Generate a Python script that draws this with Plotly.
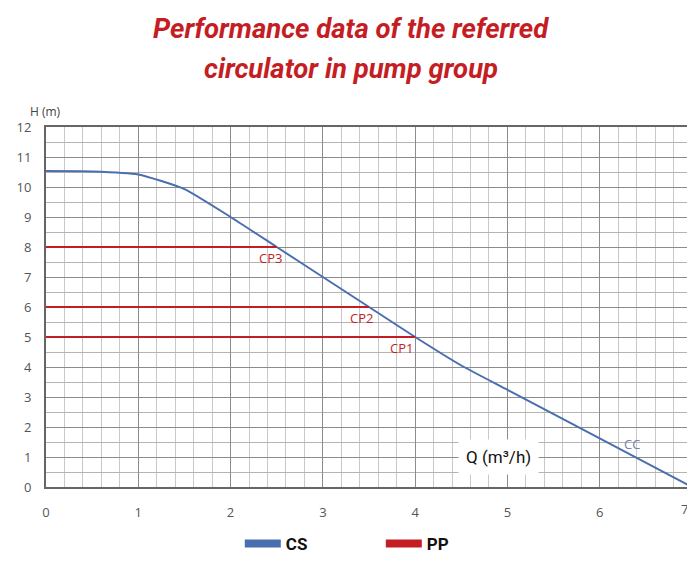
import plotly.graph_objects as go

# pump curve (CC)
q_curve = [0, 0.5, 1.0, 1.5, 2.0, 2.5, 3.0, 3.5, 4.0, 4.5, 5.0, 6.0, 7.0]
h_curve = [10.53, 10.52, 10.42, 9.93, 9.0, 8.0, 7.0, 6.0, 5.0, 4.05, 3.24, 1.62, 0.0]

# working points (PP)
cp_names = ["CP1", "CP2", "CP3"]
cp_q = [4.0, 3.5, 2.5]
cp_h = [5, 6, 8]
cp_shift = [-14, -8, -6]

x_ticks = [0, 1, 2, 3, 4, 5, 6]
y_ticks = list(range(0, 13))

BLUE = "#4a6fb0"
RED = "#c41e24"
TICK_FONT = dict(family="Open Sans", size=13, color="#555")

fig = go.Figure()

fig.add_trace(go.Scatter(x=q_curve, y=h_curve, mode="lines",
                         line=dict(color=BLUE, width=2, shape="spline", smoothing=0.5),
                         showlegend=False, hoverinfo="skip"))

for name, q, h, dx in zip(cp_names, cp_q, cp_h, cp_shift):
    fig.add_trace(go.Scatter(x=[0, q], y=[h, h], mode="lines",
                             line=dict(color=RED, width=2), showlegend=False))
    fig.add_annotation(x=q, y=h, text=name, showarrow=False,
                       xanchor="center", yanchor="top", yshift=0, xshift=dx,
                       font=dict(family="Open Sans", size=13, color=RED))

# legend-only entries
fig.add_trace(go.Scatter(x=[None], y=[None], mode="lines", name="<b>CS</b>",
                         line=dict(color=BLUE, width=8)))
fig.add_trace(go.Scatter(x=[None], y=[None], mode="lines", name="<b>PP</b>",
                         line=dict(color=RED, width=8)))

fig.add_annotation(x=6.35, y=1.45, text="CC", showarrow=False,
                   font=dict(family="Open Sans", size=13, color="#7080a8"))
fig.add_annotation(x=4.9, y=1.0, text="Q (m³/h)", showarrow=False,
                   bgcolor="white", borderpad=7,
                   font=dict(family="Roboto", size=17, color="#111"))
fig.add_annotation(x=0, y=1, xref="paper", yref="paper", text="H (m)",
                   showarrow=False, xanchor="center", yanchor="bottom",
                   xshift=-1, yshift=5,
                   font=dict(family="Open Sans", size=12, color="#444"))
# last x tick sits on the right edge, plotly drops it, so it is placed by hand
fig.add_annotation(x=7, y=0, text="7", showarrow=False, xanchor="right",
                   yanchor="top", yshift=-12, xshift=-3, borderpad=0,
                   font=TICK_FONT)

# title as two centred lines
title_lines = ["Performance data of the referred", "circulator in pump group"]
for i, line in enumerate(title_lines):
    fig.add_annotation(x=0.5, y=1.0, xref="paper", yref="paper",
                       text="<b><i>" + line + "</i></b>", showarrow=False,
                       xanchor="center", yanchor="middle", yshift=99 - i * 40,
                       xshift=-18,
                       font=dict(family="Roboto", size=27.5, color=RED))

# page body has an 8px margin, so the figure is sized to fit the window
fig.update_layout(
    width=687, height=554,
    margin=dict(l=38, r=3, t=119, b=75, autoexpand=False),
    paper_bgcolor="white", plot_bgcolor="white",
    legend=dict(orientation="h", x=0.3, xanchor="left", y=-0.208, yanchor="bottom",
                font=dict(family="Roboto", size=17, color="#111"),
                entrywidth=90, itemwidth=36),
    showlegend=True,
)

fig.update_xaxes(range=[0, 7], tickvals=x_ticks, showgrid=True, automargin=False,
                 gridcolor="#8c8c8c", gridwidth=1,
                 minor=dict(dtick=0.2, showgrid=True, gridcolor="#c8c8c8"),
                 showline=True, linecolor="#666", linewidth=2, mirror=True,
                 zeroline=False, ticks="", ticklabelstandoff=12,
                 tickfont=TICK_FONT)
fig.update_yaxes(range=[0, 12], tickvals=y_ticks, showgrid=True, automargin=False,
                 gridcolor="#8c8c8c", gridwidth=1,
                 minor=dict(dtick=0.5, showgrid=True, gridcolor="#b4b4b4"),
                 showline=True, linecolor="#666", linewidth=2, mirror=True,
                 zeroline=False, ticks="", ticklabelstandoff=10,
                 tickfont=TICK_FONT)

fig.write_html("out.html")
